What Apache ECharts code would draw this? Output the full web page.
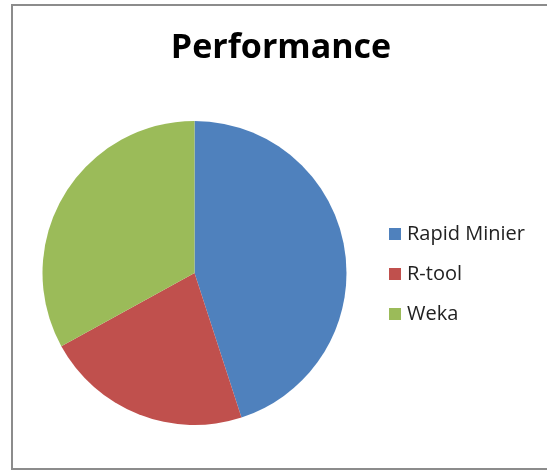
<!DOCTYPE html>
<html>
<head>
<meta charset="utf-8">
<script src="https://cdn.jsdelivr.net/npm/echarts@6/dist/echarts.min.js"></script>
<style>
html,body{margin:0;padding:0;background:#fff;}
#c{width:547px;height:471px;}
</style>
</head>
<body>
<div id="c"></div>
<script>
const categories = ["Rapid Minier", "R-tool", "Weka"];
const values = [45, 22, 33];
const colors = ["#4F81BD", "#C0504D", "#9BBB59"];
const titleText = "Performance";

const chart = echarts.init(document.getElementById('c'), null, {renderer: 'canvas'});
chart.setOption({
  animation: false,
  backgroundColor: '#ffffff',
  title: {
    text: titleText,
    left: 281, top: 31,
    padding: 0,
    textAlign: 'center',
    textStyle: {fontFamily: 'Open Sans', fontWeight: 'bold', fontSize: 34, color: '#000'}
  },
  legend: {
    orient: 'vertical',
    left: 389, top: 224,
    padding: 0,
    itemWidth: 12, itemHeight: 12,
    itemGap: 20,
    icon: 'rect',
    data: categories,
    textStyle: {fontFamily: 'Open Sans', fontSize: 20, lineHeight: 20, color: '#222', padding: [0, 0, 0, 1]}
  },
  graphic: [{
    type: 'rect',
    shape: {x: 12, y: 5, width: 560, height: 464},
    style: {fill: 'none', stroke: '#8c8c8c', lineWidth: 2},
    silent: true
  }],
  series: [{
    type: 'pie',
    center: [194.5, 273],
    radius: 152,
    startAngle: 90,
    clockwise: true,
    label: {show: false},
    labelLine: {show: false},
    itemStyle: {borderWidth: 0},
    emphasis: {disabled: true},
    data: categories.map((n, i) => ({name: n, value: values[i], itemStyle: {color: colors[i]}}))
  }]
});
</script>
</body>
</html>
